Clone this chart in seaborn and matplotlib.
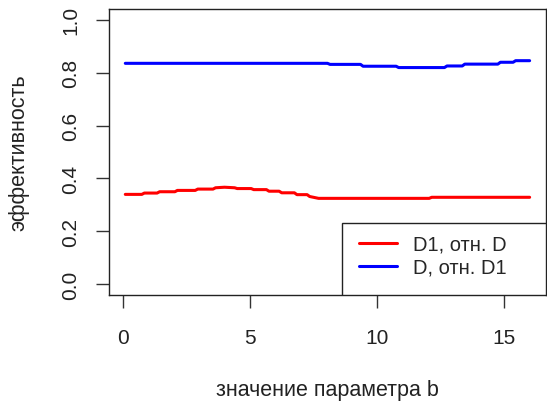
import pandas as pd
import matplotlib.pyplot as plt
from matplotlib.patches import Rectangle
import seaborn as sns

# значения
b_red = [0.1, 0.75, 0.85, 1.35, 1.45, 2.05, 2.15, 2.85, 2.95, 3.55, 3.65, 4.0, 4.4, 4.5, 5.05, 5.15,
         5.65, 5.75, 6.15, 6.25, 6.75, 6.85, 7.25, 7.35, 7.7, 12.05, 12.15, 16.0]
eff_red = [0.340, 0.340, 0.345, 0.345, 0.350, 0.350, 0.355, 0.355, 0.360, 0.360, 0.365, 0.367,
           0.365, 0.362, 0.362, 0.358, 0.358, 0.352, 0.352, 0.346, 0.346, 0.339, 0.339, 0.332,
           0.325, 0.325, 0.329, 0.329]
b_blue = [0.1, 8.05, 8.15, 9.35, 9.45, 10.75, 10.85, 12.65, 12.75, 13.35, 13.45, 14.75, 14.85,
          15.35, 15.45, 16.0]
eff_blue = [0.835, 0.835, 0.831, 0.831, 0.824, 0.824, 0.819, 0.819, 0.825, 0.825, 0.832, 0.832,
            0.839, 0.839, 0.845, 0.845]

series_names = ['D1, отн. D', 'D, отн. D1']
x_ticks = [0, 5, 10, 15]
y_ticks = [0.0, 0.2, 0.4, 0.6, 0.8, 1.0]

df = pd.concat([
    pd.DataFrame({'b': b_red, 'eff': eff_red, 'series': series_names[0]}),
    pd.DataFrame({'b': b_blue, 'eff': eff_blue, 'series': series_names[1]}),
], ignore_index=True)

sns.set_style('white')
plt.rcParams['font.family'] = ['Liberation Sans', 'DejaVu Sans']

fig = plt.figure(figsize=(5.47, 4.02), dpi=100)
ax = fig.add_axes([0.1993, 0.2637, 0.7987, 0.7113])

sns.lineplot(data=df, x='b', y='eff', hue='series', palette=['#ff0000', '#0000ff'],
             sort=False, estimator=None, linewidth=2.2, ax=ax)

ax.set_xlim(-0.54, 16.64)
ax.set_ylim(-0.04, 1.04)
ax.set_xticks(x_ticks)
ax.set_yticks(y_ticks)
ax.set_yticklabels([f'{v:.1f}' for v in y_ticks], rotation=90, va='center')
ax.tick_params(axis='both', direction='out', length=9.5, width=1, color='#333333',
               labelsize=15, labelcolor='#222222')
ax.tick_params(axis='x', pad=14)
ax.tick_params(axis='y', pad=11)
ax.tick_params(left=True, bottom=True)
for s in ax.spines.values():
    s.set_color('#222222')
    s.set_linewidth(1.0)

ax.set_xlabel('значение параметра b', fontsize=15.5, color='#222222', labelpad=23)
ax.set_ylabel('эффективность', fontsize=15.5, color='#222222', labelpad=23)

# рамка легенды в стиле R, прижатая к правому нижнему углу
ax.add_patch(Rectangle((0.533, 0.0), 0.467, 0.252, transform=ax.transAxes,
                       facecolor='white', edgecolor='#222222', linewidth=1.0, zorder=3))
leg = ax.legend(loc='upper left', bbox_to_anchor=(0.572, 0.21), fontsize=14.5, frameon=False,
                borderaxespad=0, borderpad=0, handlelength=1.9, labelspacing=0.2,
                handletextpad=0.8)
leg.set_zorder(4)

fig.savefig('out.png', dpi=100)
